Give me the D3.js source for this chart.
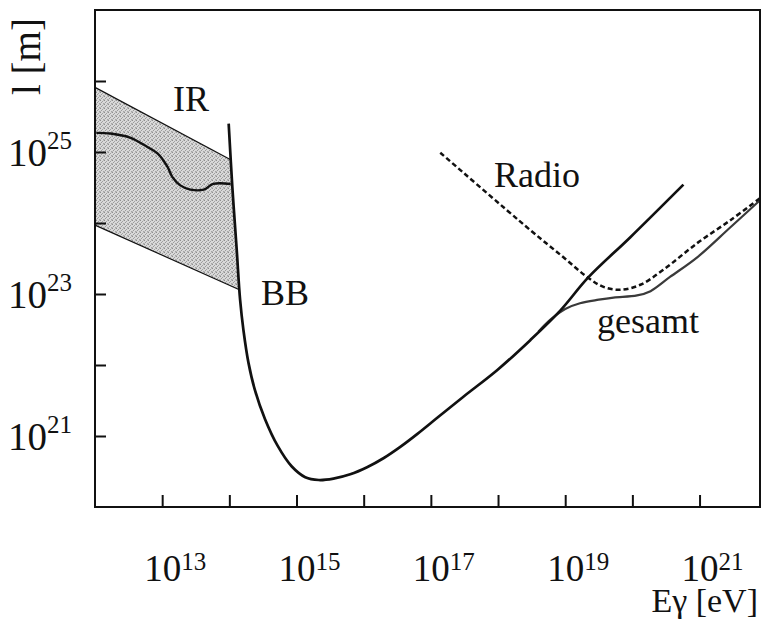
<!DOCTYPE html>
<html>
<head>
<meta charset="utf-8">
<script src="https://cdn.jsdelivr.net/npm/d3@7"></script>
<style>
  html, body { margin: 0; padding: 0; background: #fff; }
  svg { display: block; }
  text { font-family: "Liberation Serif", "Times New Roman", serif; fill: #111; }
</style>
</head>
<body>
<svg id="chart" width="763" height="620"></svg>
<script>
// Mean free path l of photons versus photon energy E.
// All values are stored as decimal exponents: [log10(E / eV), log10(l / m)].

// CMB (black body) pair-production curve
const bbCurve = [
  [13.99, 25.40], [14.045, 24.50], [14.11, 23.62], [14.16, 22.92], [14.21, 22.49],
  [14.285, 22.03], [14.38, 21.65], [14.53, 21.24], [14.72, 20.86], [14.93, 20.57],
  [15.13, 20.42], [15.33, 20.38], [15.55, 20.40], [15.80, 20.46], [16.05, 20.56],
  [16.30, 20.69], [16.55, 20.85], [16.80, 21.03], [17.10, 21.26], [17.48, 21.55],
  [17.99, 21.93], [18.48, 22.35], [18.93, 22.77], [19.34, 23.23], [19.97, 23.80],
  [20.76, 24.54]
];

// Radio background curve (dashed)
const radioCurve = [
  [17.14, 24.99], [18.48, 23.90], [18.97, 23.52], [19.34, 23.23], [19.57, 23.10],
  [19.82, 23.06], [20.12, 23.13], [20.46, 23.34], [20.97, 23.72], [21.46, 24.04],
  [21.90, 24.35]
];

// Combined ("gesamt") curve where it departs from the black body curve
const totalCurve = [
  [18.60, 22.47], [18.78, 22.64], [19.00, 22.79], [19.22, 22.87], [19.50, 22.92],
  [19.72, 22.95], [20.07, 22.98], [20.27, 23.04], [20.56, 23.24], [20.97, 23.52],
  [21.46, 23.94], [21.90, 24.32]
];

// Infrared band: upper and lower bounds, and the central estimate
const irUpper = [[12.00, 25.91], [14.02, 24.89]];
const irLower = [[12.00, 23.97], [14.15, 23.06]];
const irEdge  = [[14.02, 24.89], [14.045, 24.50], [14.11, 23.62], [14.15, 23.06]];
const irMid = [
  [12.02, 25.27], [12.23, 25.26], [12.53, 25.20], [12.78, 25.07], [12.93, 24.98],
  [13.08, 24.79], [13.15, 24.65], [13.27, 24.53], [13.42, 24.47], [13.62, 24.47],
  [13.76, 24.55], [14.02, 24.55]
];

// Axis ticks (exponents)
const xTickExps = [13, 14, 15, 16, 17, 18, 19, 20, 21];
const xLabelExps = [13, 15, 17, 19, 21];
const yTickExps = [21, 22, 23, 24, 25, 26];
const yLabelExps = [21, 23, 25];

const svg = d3.select("#chart");
const plotLeft = 95, plotRight = 760, plotTop = 10, plotBottom = 507;

const x = d3.scaleLog().domain([1e12, Math.pow(10, 21.9)]).range([plotLeft, plotRight]);
const y = d3.scaleLog().domain([1e20, 1e27]).range([plotBottom, plotTop]);

const px = d => x(Math.pow(10, d[0]));
const py = d => y(Math.pow(10, d[1]));
const line = d3.line().x(px).y(py).curve(d3.curveCatmullRom.alpha(0.5));
const straight = d3.line().x(px).y(py);

// stippled grey texture for the IR band
const defs = svg.append("defs");
const pat = defs.append("pattern").attr("id", "stipple")
  .attr("width", 4).attr("height", 4).attr("patternUnits", "userSpaceOnUse");
pat.append("rect").attr("width", 4).attr("height", 4).attr("fill", "#d9d9d9");
[[0, 0, "#8f8f8f"], [2, 1, "#a0a0a0"], [1, 2, "#9a9a9a"], [3, 3, "#a6a6a6"], [3, 0, "#bdbdbd"], [0, 3, "#b8b8b8"]]
  .forEach(([dx, dy, c]) => pat.append("rect").attr("x", dx).attr("y", dy)
    .attr("width", 1).attr("height", 1).attr("fill", c));

// IR band
const bandPts = irUpper.concat(irEdge.slice(1), irLower.slice().reverse());
svg.append("path").attr("d", straight(bandPts) + "Z")
  .attr("fill", "url(#stipple)").attr("stroke", "none");
svg.append("path").attr("d", straight(irUpper)).attr("fill", "none")
  .attr("stroke", "#111").attr("stroke-width", 1.2);
svg.append("path").attr("d", straight(irLower)).attr("fill", "none")
  .attr("stroke", "#111").attr("stroke-width", 1.2);
svg.append("path").attr("d", line(irMid)).attr("fill", "none")
  .attr("stroke", "#111").attr("stroke-width", 2.4).attr("stroke-linejoin", "round");

// curves
svg.append("path").attr("d", line(totalCurve)).attr("fill", "none")
  .attr("stroke", "#3a3a3a").attr("stroke-width", 2.2);
svg.append("path").attr("d", line(radioCurve)).attr("fill", "none")
  .attr("stroke", "#111").attr("stroke-width", 2.5).attr("stroke-dasharray", "5,3");
svg.append("path").attr("d", line(bbCurve)).attr("fill", "none")
  .attr("stroke", "#111").attr("stroke-width", 2.7).attr("stroke-linejoin", "round");

// frame
svg.append("rect").attr("x", plotLeft).attr("y", plotTop)
  .attr("width", plotRight - plotLeft).attr("height", plotBottom - plotTop)
  .attr("fill", "none").attr("stroke", "#111").attr("stroke-width", 2);

// ticks (pointing inwards)
const xAxis = d3.axisBottom(x).tickValues(xTickExps.map(e => Math.pow(10, e)))
  .tickSize(-12).tickFormat("");
svg.append("g").attr("transform", `translate(0,${plotBottom})`).call(xAxis)
  .call(g => g.select(".domain").remove())
  .call(g => g.selectAll("line").attr("stroke", "#111").attr("stroke-width", 2));

const yAxis = d3.axisLeft(y).tickValues(yTickExps.map(e => Math.pow(10, e)))
  .tickSize(-11).tickFormat("");
svg.append("g").attr("transform", `translate(${plotLeft},0)`).call(yAxis)
  .call(g => g.select(".domain").remove())
  .call(g => g.selectAll("line").attr("stroke", "#111").attr("stroke-width", 2));

// tick labels with superscript exponents
xLabelExps.forEach(e => {
  const t = svg.append("text")
    .attr("x", x(Math.pow(10, e)) - 18).attr("y", 581)
    .style("font-size", "37px");
  t.append("tspan").text("10");
  t.append("tspan").attr("dy", -11).style("font-size", "25px").text(e);
});
yLabelExps.forEach(e => {
  const t = svg.append("text")
    .attr("x", 72).attr("y", y(Math.pow(10, e)) + 14)
    .attr("text-anchor", "end")
    .style("font-size", "39px");
  t.append("tspan").text("10");
  t.append("tspan").attr("dy", -17).style("font-size", "25px").text(e);
});

// axis titles
svg.append("text").attr("transform", "translate(40,95) rotate(-90)")
  .style("font-size", "39px").text("l [m]");
svg.append("text").attr("x", 758).attr("y", 612).attr("text-anchor", "end")
  .style("font-size", "34px").text("Eγ [eV]");

// curve labels
const labels = [
  { text: "IR", x: 173, y: 111 },
  { text: "BB", x: 261, y: 305 },
  { text: "Radio", x: 494, y: 187 },
  { text: "gesamt", x: 597, y: 333 }
];
labels.forEach(l => svg.append("text").attr("x", l.x).attr("y", l.y)
  .style("font-size", "36px").text(l.text));
</script>
</body>
</html>
